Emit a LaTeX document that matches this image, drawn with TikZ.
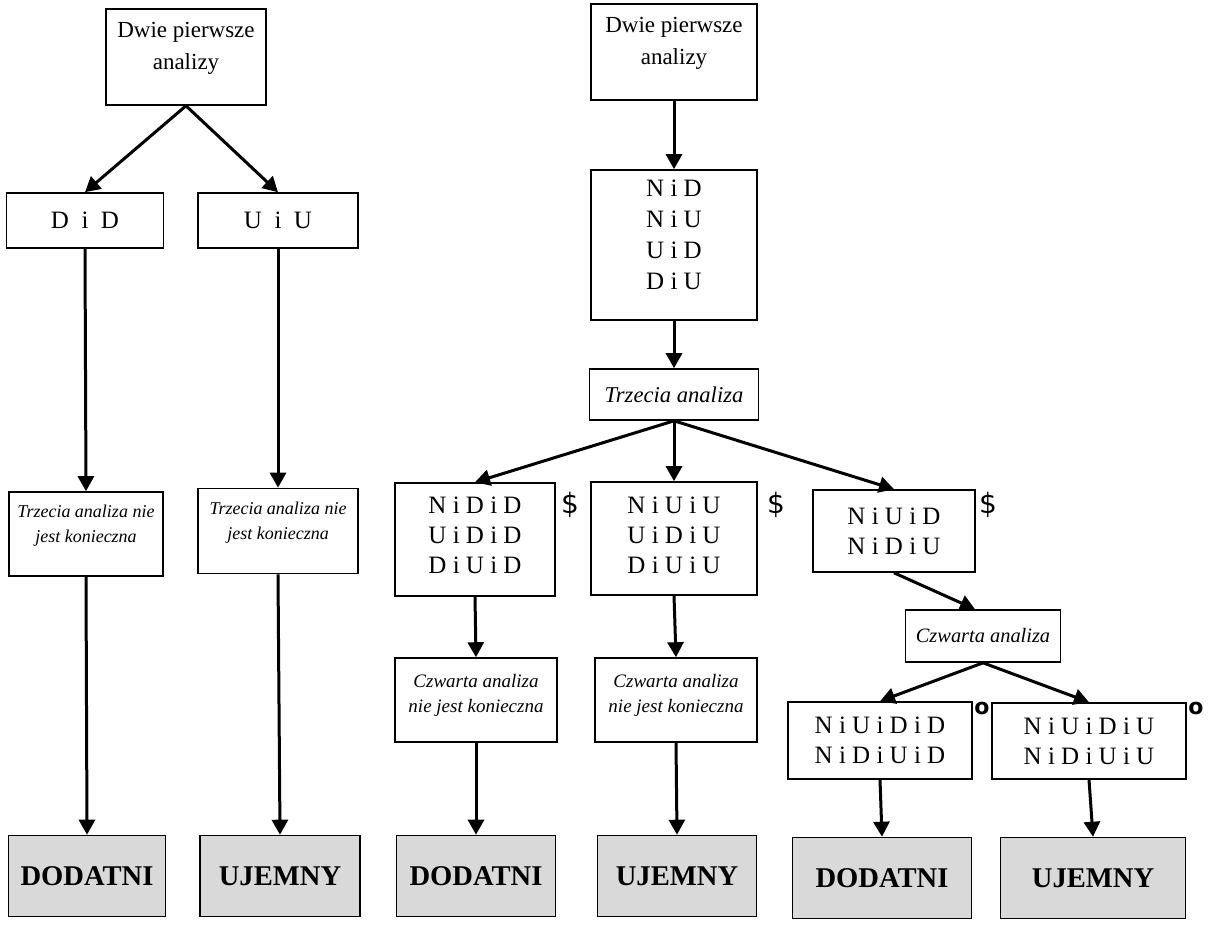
\documentclass[tikz,border=0pt]{standalone}
\usepackage{fontspec}
\setmainfont{Liberation Serif}
\newfontfamily\signfont{DejaVu Sans}
\usetikzlibrary{arrows.meta}
\definecolor{resultgray}{RGB}{217,217,217}

\begin{document}
\begin{tikzpicture}[x=0.5pt,y=-0.5pt,>={Triangle[length=7.5pt,width=8pt]}]
\tikzstyle{box}=[draw,line width=0.8pt,inner sep=1pt,align=center]
\tikzstyle{start}=[box,font=\fontsize{11.5}{16}\selectfont,text depth=11.5pt]
\tikzstyle{pairs}=[box,font=\fontsize{12.5}{15}\selectfont]
\tikzstyle{analysis}=[box,font=\fontsize{11.3}{14}\selectfont\itshape]
\tikzstyle{fourth}=[box,font=\fontsize{10.2}{13}\selectfont\itshape]
\tikzstyle{notneeded}=[box,font=\fontsize{9}{12.5}\selectfont\itshape,text depth=10pt]
\tikzstyle{later}=[box,font=\fontsize{9.5}{12.5}\selectfont\itshape,text depth=7pt]
\tikzstyle{result}=[box,fill=resultgray,font=\fontsize{14.3}{16}\selectfont\bfseries,minimum height=40.5pt]
\tikzstyle{link}=[->,line width=1.5pt]
\tikzstyle{dollar}=[font=\signfont\fontsize{14}{14}\selectfont,inner sep=0pt]
\tikzstyle{ring}=[font=\signfont\bfseries\fontsize{11}{11}\selectfont,inner sep=0pt]
\useasboundingbox (0,0) rectangle (1208,926);

% left tree
\node[start,minimum width=80pt,minimum height=48pt] (top1) at (186,57) {Dwie pierwsze\\analizy};
\node[pairs,minimum width=78.5pt,minimum height=27.5pt] (did) at (85,220.5) {D\enspace i\enspace D};
\node[pairs,minimum width=80pt,minimum height=27.5pt] (uiu) at (278,220.5) {U\enspace i\enspace U};
\node[notneeded,minimum width=77pt,minimum height=42pt] (skipL) at (86,534) {Trzecia analiza nie\\jest konieczna};
\node[notneeded,minimum width=80pt,minimum height=42.5pt] (skipR) at (278,531) {Trzecia analiza nie\\jest konieczna};
\node[result,minimum width=78.5pt] (dodL) at (87,876) {DODATNI};
\node[result,minimum width=80pt] (ujL) at (280,876) {UJEMNY};

\draw[link] (top1.south) -- (did.north);
\draw[link] (top1.south) -- (uiu.north);
\draw[link] (did.south) -- (skipL.north);
\draw[link] (uiu.south) -- (skipR.north);
\draw[link] (skipL.south) -- (dodL.north);
\draw[link] (skipR.south) -- (ujL.north);

% right tree
\node[start,minimum width=83pt,minimum height=48pt] (top2) at (674,52) {Dwie pierwsze\\analizy};
\node[pairs,minimum width=83pt,minimum height=75pt,text depth=10pt,font=\fontsize{12.5}{15.5}\selectfont] (list4) at (674,245) {N i D\\N i U\\U i D\\D i U};
\node[analysis,minimum width=84.5pt,minimum height=25.5pt] (third) at (674,394.5) {Trzecia analiza};
\node[pairs,minimum width=80pt,minimum height=56.5pt,text depth=4pt] (grpA) at (475,539.5) {N i D i D\\U i D i D\\D i U i D};
\node[pairs,minimum width=83pt,minimum height=56.5pt,text depth=3pt] (grpB) at (674,538.5) {N i U i U\\U i D i U\\D i U i U};
\node[pairs,minimum width=81pt,minimum height=41pt] (grpC) at (894,531) {N i U i D\\N i D i U};
\node[dollar] (dolA) at (570,505) {\$};
\node[dollar] (dolB) at (776,505) {\$};
\node[dollar] (dolC) at (988,505) {\$};
\node[later,minimum width=81pt,minimum height=42pt] (skipA) at (476,700) {Czwarta analiza\\nie jest konieczna};
\node[later,minimum width=81pt,minimum height=42pt] (skipB) at (676,700) {Czwarta analiza\\nie jest konieczna};
\node[fourth,minimum width=77.5pt,minimum height=26pt] (fourth) at (983,636) {Czwarta analiza};
\node[pairs,minimum width=92pt,minimum height=38.5pt] (grpD) at (880,740.5) {N i U i D i D\\N i D i U i D};
\node[pairs,minimum width=97pt,minimum height=38pt] (grpE) at (1089,741) {N i U i D i U\\N i D i U i U};
\node[ring] (ringD) at (982,708) {o};
\node[ring] (ringE) at (1196,708) {o};
\node[result,minimum width=79.5pt] (dodA) at (476,876) {DODATNI};
\node[result,minimum width=79.5pt] (ujB) at (677,876) {UJEMNY};
\node[result,minimum width=89.5pt] (dodD) at (882,878) {DODATNI};
\node[result,minimum width=92.5pt] (ujE) at (1093,878) {UJEMNY};

\draw[link] (top2.south) -- (list4.north);
\draw[link] (list4.south) -- (third.north);
\draw[link] (third.south) -- (grpA.north);
\draw[link] (third.south) -- (grpB.north);
\draw[link] (third.south) -- (grpC.north);
\draw[link] (grpA.south) -- (skipA.north);
\draw[link] (grpB.south) -- (skipB.north);
\draw[link] (grpC.south) -- ([xshift=-4pt]fourth.north);
\draw[link] (fourth.south) -- (grpD.north);
\draw[link] (fourth.south) -- (grpE.north);
\draw[link] (skipA.south) -- (dodA.north);
\draw[link] (skipB.south) -- (ujB.north);
\draw[link] (grpD.south) -- (dodD.north);
\draw[link] (grpE.south) -- (ujE.north);
\end{tikzpicture}
\end{document}
